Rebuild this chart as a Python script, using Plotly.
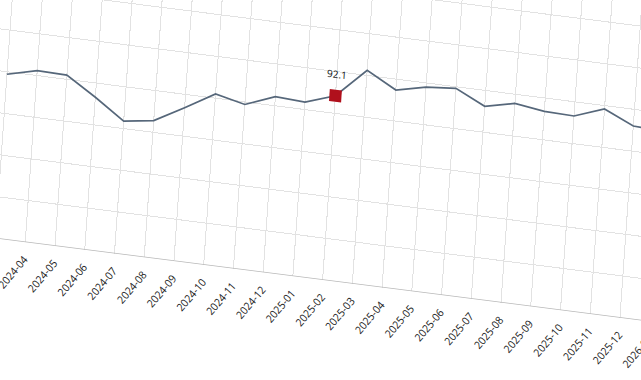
import plotly.graph_objects as go

months = ["2024-03", "2024-04", "2024-05", "2024-06", "2024-07", "2024-08",
          "2024-09", "2024-10", "2024-11", "2024-12", "2025-01", "2025-02",
          "2025-03", "2025-04", "2025-05", "2025-06", "2025-07", "2025-08",
          "2025-09", "2025-10", "2025-11", "2025-12", "2026-01"]
values = [89.7, 90.6, 90.5, 88.3, 85.9, 86.4, 88.4, 90.5, 89.7, 91.1, 90.9,
          92.1, 95.6, 93.7, 94.5, 94.8, 93.1, 93.9, 93.4, 93.3, 94.6, 93.0, 92.8]
highlight_month = "2025-02"
highlight_value = 92.1

FW, FH = 1000, 600
ML, MR, MT, MB = 150, 50, 50, 200

fig = go.Figure()
fig.add_trace(go.Scatter(
    x=months, y=values, mode="lines",
    line=dict(color="#56677a", width=1.7),
    hoverinfo="skip", showlegend=False,
))
fig.add_trace(go.Scatter(
    x=[highlight_month], y=[highlight_value], mode="markers",
    marker=dict(symbol="square", size=12, color="#b0101c"),
    hoverinfo="skip", showlegend=False,
))
fig.add_annotation(
    x=highlight_month, y=highlight_value, text=f"{highlight_value:.1f}",
    showarrow=False, yshift=22, font=dict(size=10, color="#111111"),
)

fig.update_layout(
    width=FW, height=FH,
    margin=dict(l=ML, r=MR, t=MT, b=MB),
    paper_bgcolor="white", plot_bgcolor="white",
    font=dict(family="Open Sans", size=10, color="#222222"),
    xaxis=dict(
        type="category", range=[-3, 24.12],
        showgrid=True, gridcolor="#e2e2e2", gridwidth=1,
        tickangle=-55, ticks="outside", ticklen=6, tickcolor="rgba(0,0,0,0)",
        showline=False, zeroline=False,
        tickfont=dict(size=10.5, color="#1a1a1a"),
    ),
    yaxis=dict(
        range=[70, 112], dtick=5,
        showgrid=True, gridcolor="#e2e2e2", gridwidth=1,
        showline=False, zeroline=False,
        tickfont=dict(size=10),
    ),
    shapes=[dict(type="line", xref="paper", yref="y", x0=0, x1=1, y0=70, y1=70,
                 line=dict(color="#b8b8b8", width=1.5))],
)

post = """
document.documentElement.style.overflow='hidden';
document.body.style.overflow='hidden';
document.body.style.margin='0';
var gd = document.getElementById('{plot_id}');
gd.style.transformOrigin='0 0';
gd.style.transform='matrix(1.008, 0.128, -0.0697, 1, -217.0, -192.1)';
"""

fig.write_html("out.html", post_script=post, config={"displayModeBar": False, "staticPlot": True})
